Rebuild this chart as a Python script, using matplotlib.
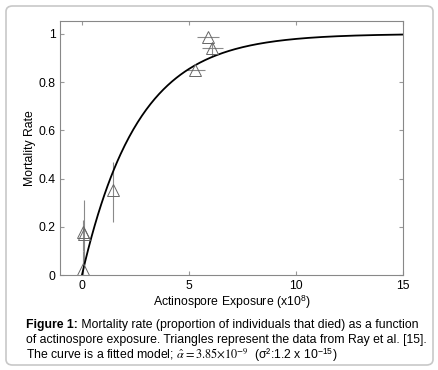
import numpy as np
import matplotlib
matplotlib.use("Agg")
import matplotlib.pyplot as plt
from matplotlib.patches import FancyBboxPatch

plt.rcParams['font.family'] = ['Liberation Sans', 'DejaVu Sans']
plt.rcParams['mathtext.fontset'] = 'stix'

# data (Ray et al.), exposure in units of 1e8
pts_x = [0.05, 0.05, 0.12, 1.47, 5.3, 5.9, 6.1]
pts_y = [0.025, 0.18, 0.17, 0.355, 0.85, 0.985, 0.94]
yerr_lo = [0.025, 0.08, 0.13, 0.135, 0.0, 0.0, 0.03]
yerr_hi = [0.075, 0.05, 0.14, 0.115, 0.0, 0.0, 0.02]
xerr_lo = [0.0, 0.0, 0.0, 0.0, 0.4, 0.5, 0.5]
xerr_hi = [0.0, 0.0, 0.0, 0.0, 0.45, 0.5, 0.5]

alpha_hat = 3.85e-9
x_curve = np.linspace(0, 15, 300)
y_curve = 1 - np.exp(-alpha_hat * x_curve * 1e8)

fig = plt.figure(figsize=(4.39, 3.70), dpi=100)

# rounded frame around figure + caption
frame = FancyBboxPatch((6 / 439, 5 / 370), 427 / 439, 359 / 370,
                       boxstyle="round,pad=0,rounding_size=0.015",
                       transform=fig.transFigure, fill=False,
                       edgecolor='#c8c8c8', linewidth=1.2)
fig.patches.append(frame)

ax = fig.add_axes([60.5 / 439, 1 - 275.3 / 370, 342.2 / 439, 254.3 / 370])

eb = ax.errorbar(pts_x, pts_y, yerr=[yerr_lo, yerr_hi], xerr=[xerr_lo, xerr_hi],
                 fmt='^', mfc='none', mec='#666666', ms=8, mew=0.7,
                 ecolor='#8a8a8a', elinewidth=0.8, capsize=0)
eb[0].set_clip_on(False)
ax.plot(x_curve, y_curve, color='black', linewidth=1.3)

ax.set_xlim(-1, 15)
ax.set_ylim(0, 1.053)
ax.set_xticks([0, 5, 10, 15])
ax.set_xticklabels(['0', '5', '10', '15'])
ax.set_yticks([0, 0.2, 0.4, 0.6, 0.8, 1])
ax.set_yticklabels(['0', '0.2', '0.4', '0.6', '0.8', '1'])
ax.tick_params(direction='in', top=True, right=True, length=3,
               color='#999999', labelsize=8.8)
for s in ax.spines.values():
    s.set_color('#888888')
    s.set_linewidth(0.8)
ax.set_xlabel(r'Actinospore Exposure (x10$^{\mathregular{8}}$)', fontsize=8.8, labelpad=1)
ax.set_ylabel('Mortality Rate', fontsize=8.8, labelpad=2)

# caption
fs = 8.85
t = fig.text(26 / 439, 1 - 325 / 370, 'Figure 1:', fontsize=fs,
             fontweight='bold', va='center')
ax.annotate(' Mortality rate (proportion of individuals that died) as a function',
            xy=(1, 0.5), xycoords=t, va='center', ha='left', fontsize=fs,
            annotation_clip=False)
fig.text(26 / 439, 1 - 340 / 370,
         'of actinospore exposure. Triangles represent the data from Ray et al. [15].',
         fontsize=fs, va='center')
fig.text(26 / 439, 1 - 355 / 370,
         r'The curve is a fitted model; $\hat{\alpha}=3.85{\times}10^{-9}$  (σ²:1.2 x 10$^{\mathregular{-15}}$)',
         fontsize=fs, va='center')

fig.savefig('out.png', dpi=100)
